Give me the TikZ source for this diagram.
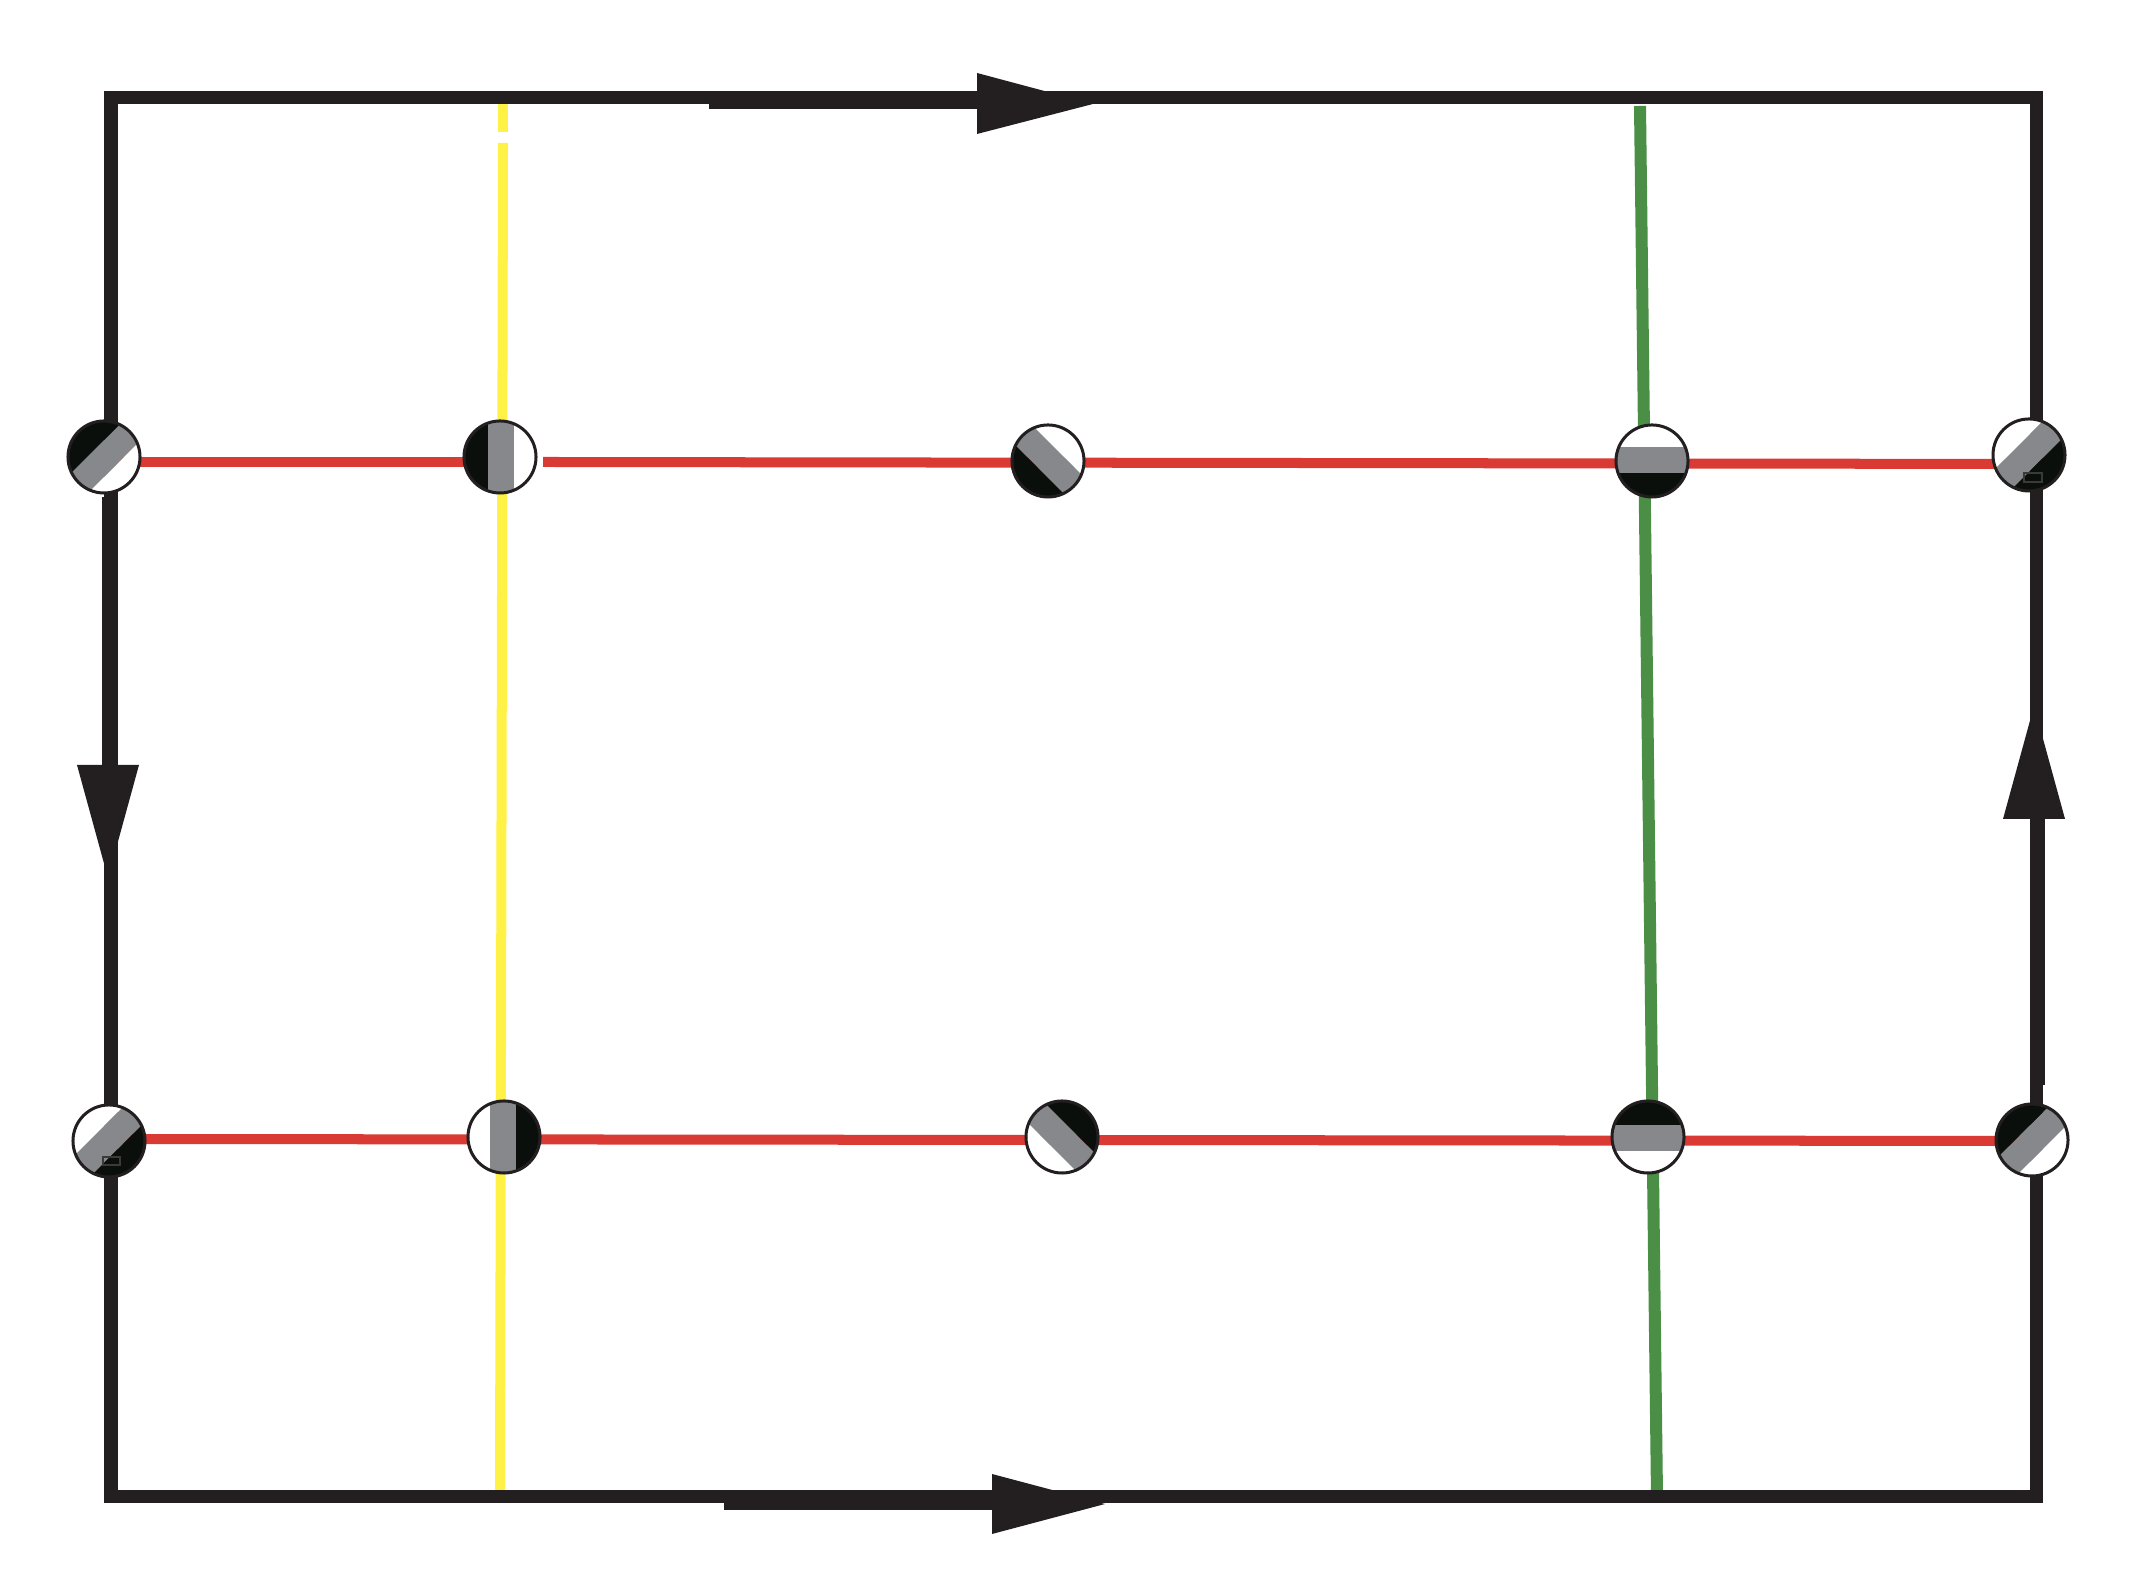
\documentclass[tikz,border=0pt]{standalone}
\usetikzlibrary{calc}
\definecolor{frameC}{HTML}{231F20}
\definecolor{discK}{HTML}{0B0F0B}
\definecolor{discG}{HTML}{87888C}
\definecolor{redC}{HTML}{D93A33}
\definecolor{yelC}{HTML}{FFF145}
\definecolor{grnC}{HTML}{4A8F45}
\definecolor{markC}{HTML}{3A3A3A}
\tikzset{
  frame/.style={draw=frameC, line width=0.13cm, line join=miter},
  redline/.style={draw=redC, line width=0.10cm},
  yelline/.style={draw=yelC, line width=0.10cm},
  grnline/.style={draw=grnC, line width=0.12cm},
  tipfill/.style={fill=frameC},
  markbox/.style={draw=markC, line width=0.02cm},
  disc/.style={circle, inner sep=0pt, minimum size=0.72cm, draw=frameC, line width=0.03cm},
}
\newcommand\discpaint[2]{%
  \begin{scope}
    \clip (#1) circle (36);
    \begin{scope}[shift={(#1)}, rotate=#2]
      \fill[white] (-50,-50) -- (50,-50) -- (50,-14) -- (-50,-14) -- cycle;
      \fill[discG] (-50,-14) -- (50,-14) -- (50,12) -- (-50,12) -- cycle;
      \fill[discK] (-50,12) -- (50,12) -- (50,50) -- (-50,50) -- cycle;
    \end{scope}
  \end{scope}}
\begin{document}
\begin{tikzpicture}[x=0.01cm,y=0.01cm]
\useasboundingbox (0,0) rectangle (2154,1588);
% frame corners
\coordinate (TL) at (111,1490);
\coordinate (TR) at (2036,1490);
\coordinate (BR) at (2036,91);
\coordinate (BL) at (111,91);
% line ends
\coordinate (yA) at (503,1484);
\coordinate (yB) at (503,1456);
\coordinate (yC) at (503,1445);
\coordinate (yD) at (500,91);
\coordinate (gA) at (1640,1482);
\coordinate (gB) at (1657,91);
\coordinate (r1a) at (104,1126);
\coordinate (r1b) at (500,1126);
\coordinate (r1c) at (543,1126);
\coordinate (r1d) at (2029,1124);
\coordinate (r2a) at (109,449);
\coordinate (r2b) at (2032,447);
% disc centres
\coordinate (p1)  at (104,1131);
\coordinate (p2)  at (500,1131);
\coordinate (p3)  at (1048,1127);
\coordinate (p4)  at (1652,1127);
\coordinate (p5)  at (2029,1133);
\coordinate (p6)  at (109,447);
\coordinate (p7)  at (504,451);
\coordinate (p8)  at (1062,451);
\coordinate (p9)  at (1648,451);
\coordinate (p10) at (2032,448);

% coloured lines
\draw[yelline] (yA) -- (yB);
\draw[yelline] (yC) -- (yD);
\draw[grnline] (gA) -- (gB);
\draw[redline] (r1a) -- (r1b);
\draw[redline] (r1c) -- (r1d);
\draw[redline] (r2a) -- (r2b);

% frame
\draw[frame] (TL) -- (TR) -- (BR) -- (BL) -- cycle;

% arrow shafts (thicker offsets)
\fill[tipfill] (709,1479) rectangle (977,1490);
\fill[tipfill] (724,78) rectangle (992,91);
\fill[tipfill] (102,823) rectangle (111,1091);
\fill[tipfill] (2036,503) rectangle (2045,769);

% arrow heads
\fill[tipfill] (977,1515) -- (977,1454) -- (1093,1484) -- cycle;
\fill[tipfill] (992,114) -- (992,54) -- (1105,84) -- cycle;
\fill[tipfill] (77,823) -- (139,823) -- (108,710) -- cycle;
\fill[tipfill] (2003,769) -- (2065,769) -- (2034,882) -- cycle;

% disc fillings
\discpaint{p1}{45}
\discpaint{p2}{90}
\discpaint{p3}{135}
\discpaint{p4}{180}
\discpaint{p5}{-135}
\discpaint{p6}{-135}
\discpaint{p7}{-90}
\discpaint{p8}{-45}
\discpaint{p9}{0}
\discpaint{p10}{45}

% discs (outlines)
\node[disc] (c1)  at (p1) {};
\node[disc] (c2)  at (p2) {};
\node[disc] (c3)  at (p3) {};
\node[disc] (c4)  at (p4) {};
\node[disc] (c5)  at (p5) {};
\node[disc] (c6)  at (p6) {};
\node[disc] (c7)  at (p7) {};
\node[disc] (c8)  at (p8) {};
\node[disc] (c9)  at (p9) {};
\node[disc] (c10) at (p10) {};

% small marks
\draw[markbox] (2024,1106) rectangle (2042,1115);
\draw[markbox] (103,423) rectangle (120,431);
\end{tikzpicture}
\end{document}
